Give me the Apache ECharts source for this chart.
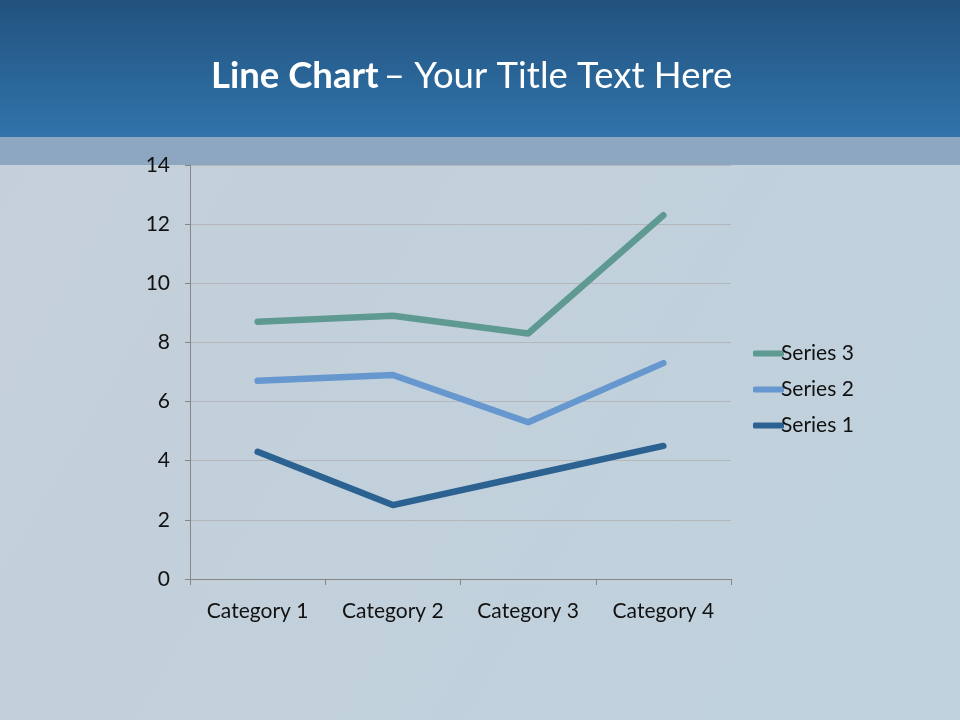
<!DOCTYPE html>
<html>
<head>
<meta charset="utf-8">
<script src="https://cdn.jsdelivr.net/npm/echarts@6/dist/echarts.min.js"></script>
<style>
html,body{margin:0;padding:0;width:960px;height:720px;overflow:hidden;}
#c{width:960px;height:720px;}
</style>
</head>
<body>
<div id="c"></div>
<script>
const categories = ['Category 1', 'Category 2', 'Category 3', 'Category 4'];
const series1 = [4.3, 2.5, 3.5, 4.5];
const series2 = [2.4, 4.4, 1.8, 2.8];
const series3 = [2, 2, 3, 5];
const yTicks = [0, 2, 4, 6, 8, 10, 12, 14];

const chart = echarts.init(document.getElementById('c'), null, {renderer: 'canvas'});
const font = 'Lato, "Open Sans", sans-serif';
function line(name, data, color, z) {
  return {
    name: name, type: 'line', stack: 'total', data: data,
    symbol: 'none', z: z,
    lineStyle: {color: color, width: 6.5, cap: 'round', join: 'round'},
    itemStyle: {color: color},
    emphasis: {disabled: true}
  };
}
chart.setOption({
  animation: false,
  backgroundColor: '#c3d0da',
  graphic: [
    {type: 'rect', z: -10, shape: {x: 0, y: 0, width: 960, height: 137},
     style: {fill: new echarts.graphic.LinearGradient(0, 0, 0, 1, [
       {offset: 0, color: '#22527e'}, {offset: 1, color: '#3074ab'}])}},
    {type: 'rect', z: -10, shape: {x: 0, y: 137, width: 960, height: 28},
     style: {fill: '#8ea7c0'}},
    {type: 'rect', z: -10, shape: {x: 0, y: 165, width: 960, height: 555},
     style: {fill: new echarts.graphic.LinearGradient(0, 0, 1, 1, [
       {offset: 0, color: '#c4cfd9'}, {offset: 1, color: '#bfd2de'}])}}
  ],
  title: {
    text: '{b|Line Chart} {n|– Your Title Text Here}',
    left: 206, top: 53,
    textStyle: {
      rich: {
        b: {fontFamily: font, fontSize: 36.5, fontWeight: 'bold', color: '#ffffff'},
        n: {fontFamily: font, fontSize: 36.5, fontWeight: 'normal', color: '#ffffff'}
      }
    }
  },
  legend: {
    orient: 'vertical', left: 748, top: 338, itemGap: 15,
    itemWidth: 31, itemHeight: 6, icon: 'roundRect',
    data: ['Series 3', 'Series 2', 'Series 1'],
    textStyle: {fontFamily: font, fontSize: 21, color: '#111111', padding: [0, 0, 0, -8]}
  },
  grid: {left: 190, right: 229, top: 165, bottom: 141, containLabel: false},
  xAxis: {
    type: 'category', data: categories, boundaryGap: true,
    axisLine: {lineStyle: {color: '#868686', width: 1}},
    axisTick: {show: true, length: 6, lineStyle: {color: '#868686'}},
    axisLabel: {fontFamily: font, fontSize: 21, color: '#111111', margin: 22},
    splitLine: {show: false}
  },
  yAxis: {
    type: 'value', min: yTicks[0], max: yTicks[yTicks.length - 1], interval: 2,
    axisLine: {show: true, lineStyle: {color: '#868686', width: 1}},
    axisTick: {show: true, length: 5, lineStyle: {color: '#868686'}},
    axisLabel: {fontFamily: font, fontSize: 21, color: '#111111', margin: 20},
    splitLine: {show: true, lineStyle: {color: '#b3b6ba', width: 1}}
  },
  series: [
    line('Series 1', series1, '#2c6292', 3),
    line('Series 2', series2, '#6698cf', 2),
    line('Series 3', series3, '#5f9a92', 1)
  ]
});
</script>
</body>
</html>
